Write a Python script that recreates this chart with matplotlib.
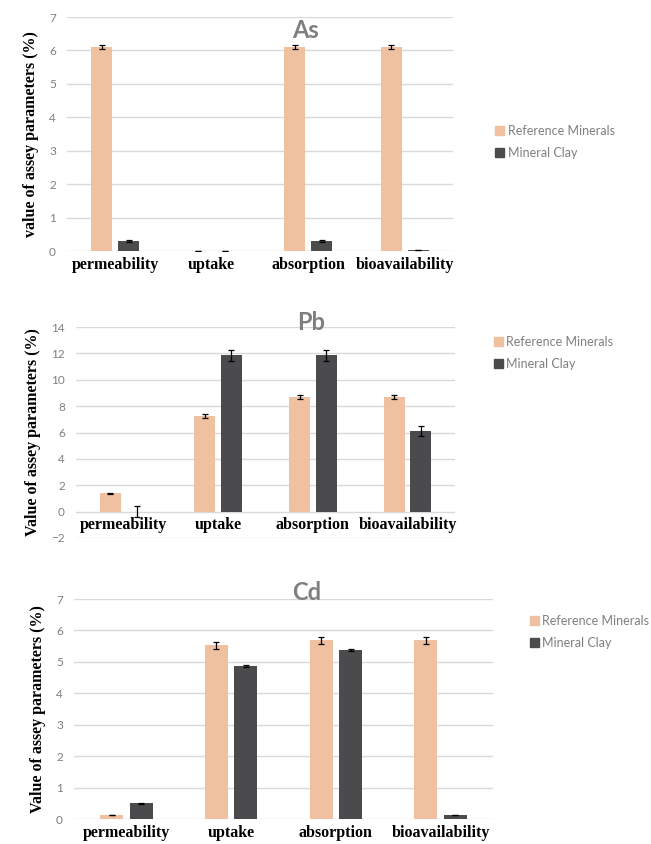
import numpy as np
import matplotlib
matplotlib.use("Agg")
import matplotlib.pyplot as plt
from matplotlib.patches import Patch

# 数据
categories = ["permeability", "uptake", "absorption", "bioavailability"]
series_names = ["Reference Minerals", "Mineral Clay"]

as_ref = [6.1, 0.01, 6.1, 6.1]
as_ref_err = [0.05, 0.0, 0.05, 0.05]
as_clay = [0.3, 0.01, 0.3, 0.03]
as_clay_err = [0.02, 0.0, 0.02, 0.01]

pb_ref = [1.4, 7.25, 8.7, 8.7]
pb_ref_err = [0.04, 0.15, 0.18, 0.18]
pb_clay = [0.0, 11.85, 11.85, 6.1]
pb_clay_err = [0.4, 0.4, 0.4, 0.4]

cd_ref = [0.13, 5.53, 5.68, 5.68]
cd_ref_err = [0.01, 0.11, 0.11, 0.11]
cd_clay = [0.5, 4.87, 5.37, 0.13]
cd_clay_err = [0.02, 0.04, 0.04, 0.01]

ref_color = "#F0C1A1"
clay_color = "#4B4B4D"
grid_color = "#D9D9D9"
tick_color = "#7F7F7F"

fig = plt.figure(figsize=(6.51, 8.44), dpi=100)


def draw_panel(rect, ref, ref_err, clay, clay_err, ylim, step, title, title_xy,
               ylabel, legend_xy, bar_w):
    ax = fig.add_axes(rect)
    x = np.arange(len(categories))
    gap = 0.06
    ax.bar(x - (bar_w + gap) / 2, ref, bar_w, color=ref_color, zorder=2,
           yerr=ref_err, error_kw=dict(ecolor="black", elinewidth=0.9, capsize=2.5, capthick=0.9))
    ax.bar(x + (bar_w + gap) / 2, clay, bar_w, color=clay_color, zorder=2,
           yerr=clay_err, error_kw=dict(ecolor="black", elinewidth=0.9, capsize=2.5, capthick=0.9))
    ax.set_xlim(-0.5, len(categories) - 0.5)
    ax.set_ylim(*ylim)
    ax.set_yticks(np.arange(ylim[0], ylim[1] + 0.01, step))
    ax.yaxis.grid(True, color=grid_color, linewidth=1.0, zorder=0)
    ax.set_axisbelow(True)
    for s in ax.spines.values():
        s.set_visible(False)
    ax.spines["bottom"].set_position(("data", 0))
    ax.set_xticks(x)
    ax.set_xticklabels(categories, fontfamily="Liberation Serif", fontweight="bold",
                       fontsize=11.5)
    ax.tick_params(axis="x", length=0, pad=4)
    ax.tick_params(axis="y", length=0, pad=8, labelcolor=tick_color, labelsize=8.5)
    for t in ax.get_yticklabels():
        t.set_fontfamily("Lato")
    ax.set_ylabel(ylabel, fontfamily="Liberation Serif", fontweight="bold", fontsize=11.5,
                  labelpad=7)
    fig.text(title_xy[0] / 651, 1 - title_xy[1] / 844, title, ha="center", va="center",
             fontfamily="Lato", fontweight="bold", fontsize=17, color="#7F7F7F")
    handles = [Patch(color=ref_color), Patch(color=clay_color)]
    fig.legend(handles, series_names, loc="center left",
               bbox_to_anchor=(legend_xy[0] / 651, 1 - legend_xy[1] / 844),
               frameon=False, borderpad=0, borderaxespad=0,
               handlelength=0.7, handleheight=0.7, handletextpad=0.3,
               labelspacing=0.8, prop=dict(family="Lato", size=9), labelcolor="#7F7F7F")
    return ax


draw_panel([67 / 651, 1 - 251 / 844, 386 / 651, 234 / 844],
           as_ref, as_ref_err, as_clay, as_clay_err, (0, 7), 1,
           "As", (305, 30), "value of assey parameters (%)", (495, 142), 0.22)

draw_panel([76 / 651, 1 - 538 / 844, 379 / 651, 211 / 844],
           pb_ref, pb_ref_err, pb_clay, pb_clay_err, (-2, 14), 2,
           "Pb", (311, 322), "Value of assey parameters (%)", (494, 353), 0.22)

draw_panel([74 / 651, 1 - 819 / 844, 419 / 651, 220 / 844],
           cd_ref, cd_ref_err, cd_clay, cd_clay_err, (0, 7), 1,
           "Cd", (307, 593), "Value of assey parameters (%)", (530, 632), 0.22)

fig.savefig("out.png", dpi=100)
